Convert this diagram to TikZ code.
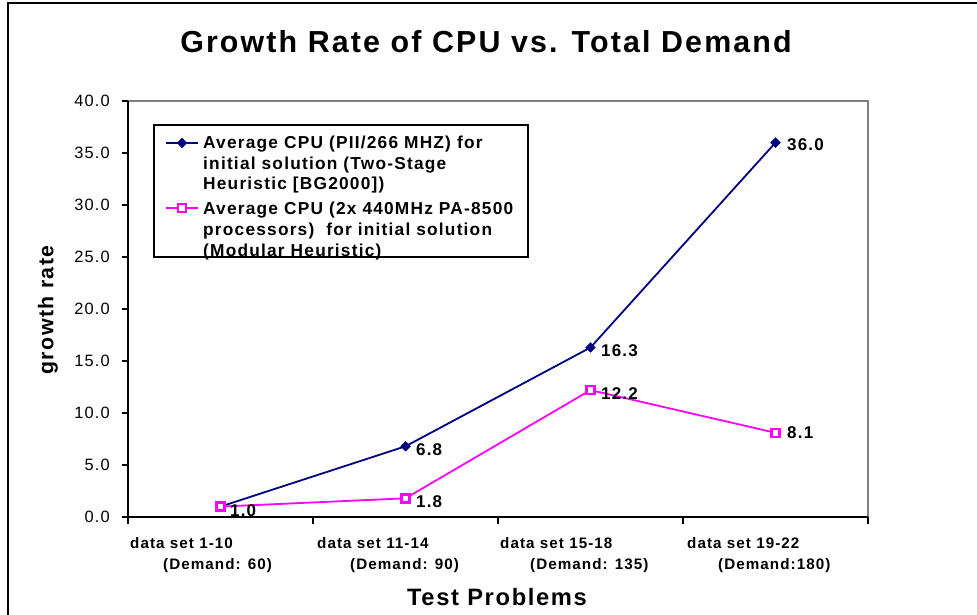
\documentclass[tikz,border=0pt]{standalone}
\usepackage{fontspec}
\setmainfont{Liberation Sans}[LetterSpace=7]
\usetikzlibrary{shapes.geometric}
\definecolor{serblue}{HTML}{000080}
\definecolor{serpink}{HTML}{FF00FF}
\definecolor{frgray}{HTML}{808080}
\begin{document}
\begin{tikzpicture}[x=1pt,y=-1pt,
  ticklab/.style={anchor=east,inner sep=0pt,font=\fontsize{16.4}{18}\selectfont},
  xlab/.style={anchor=base west,inner sep=0pt,font=\bfseries\fontsize{15.2}{17}\selectfont},
  leglab/.style={anchor=base west,inner sep=0pt,font=\bfseries\fontsize{17.3}{19}\selectfont},
  datalab/.style={anchor=west,inner sep=0pt,font=\bfseries\fontsize{17}{19}\selectfont},
  bluemark/.style={diamond,fill=serblue,draw=serblue,inner sep=0pt,minimum size=10pt},
  pinkmark/.style={rectangle,fill=white,draw=serpink,line width=2.6pt,inner sep=0pt,minimum size=8pt},
  blueline/.style={draw=serblue,line width=1.8pt},
  pinkline/.style={draw=serpink,line width=1.8pt}]
\useasboundingbox (0,0) rectangle (977,615);
\fill[white] (0,0) rectangle (977,615);
% outer frame (top and left visible)
\draw[line width=2.5pt] (8,615) -- (8,3) -- (977,3);
% title
\node[font=\bfseries\fontsize{30.4}{33}\selectfont,inner sep=0pt] (title) at (486,42) {Growth Rate of CPU vs. Total Demand};
% plot area border
\draw[frgray,line width=2.5pt] (128,101) -- (868,101) -- (868,517);
% axes
\draw[line width=2pt] (128,101) -- (128,517) -- (868,517);
\foreach \v/\t in {0/0.0,5/5.0,10/10.0,15/15.0,20/20.0,25/25.0,30/30.0,35/35.0,40/40.0}{
  \draw[line width=1.5pt] (122,517-10.4*\v) -- (128,517-10.4*\v);
  \node[ticklab] (yt\v) at (110,517-10.4*\v) {\t};
}
\foreach \x in {128,313,498,683,868}{
  \draw[line width=1.5pt] (\x,517) -- (\x,524);
}
% axis titles
\node[rotate=90,font=\bfseries\fontsize{21.3}{23}\selectfont,inner sep=0pt] (ytitle) at (48,310) {growth rate};
\node[font=\bfseries\fontsize{23.7}{26}\selectfont,inner sep=0pt] (xtitle) at (497,597) {Test Problems};
% category labels
\node[xlab] (c1a) at (130,548) {data set 1-10};
\node[xlab] (c1b) at (163,569) {(Demand: 60)};
\node[xlab] (c2a) at (317,548) {data set 11-14};
\node[xlab] (c2b) at (350,569) {(Demand: 90)};
\node[xlab] (c3a) at (500,548) {data set 15-18};
\node[xlab] (c3b) at (530,569) {(Demand: 135)};
\node[xlab] (c4a) at (687,548) {data set 19-22};
\node[xlab] (c4b) at (718,569) {(Demand:180)};
% data points
\coordinate (b1) at (220.5,506.6);
\coordinate (b2) at (405.5,446.3);
\coordinate (b3) at (590.5,347.5);
\coordinate (b4) at (775.5,142.6);
\coordinate (p1) at (220.5,506.6);
\coordinate (p2) at (405.5,498.3);
\coordinate (p3) at (590.5,390.1);
\coordinate (p4) at (775.5,432.8);
\draw[blueline] (b1) -- (b2) -- (b3) -- (b4);
\draw[pinkline] (p1) -- (p2) -- (p3) -- (p4);
\foreach \n in {b1,b2,b3,b4}{ \node[bluemark] at (\n) {}; }
\foreach \n in {p1,p2,p3,p4}{ \node[pinkmark] at (\n) {}; }
% data labels
\node[datalab] (l1) at (230,511) {1.0};
\node[datalab] (l2) at (416,450) {6.8};
\node[datalab] (l3) at (601,351) {16.3};
\node[datalab] (l4) at (787,145) {36.0};
\node[datalab] (l5) at (416,502) {1.8};
\node[datalab] (l6) at (601,394) {12.2};
\node[datalab] (l7) at (787,433) {8.1};
% legend
\draw[line width=1.5pt] (154,125) rectangle (528,257);
\coordinate (lg1a) at (166,143);
\coordinate (lg1b) at (198,143);
\draw[blueline] (lg1a) -- (lg1b);
\node[bluemark] (lm1) at (182,143) {};
\coordinate (lg2a) at (166,208);
\coordinate (lg2b) at (198,208);
\draw[pinkline] (lg2a) -- (lg2b);
\node[pinkmark] (lm2) at (182,208) {};
\node[leglab] (t1a) at (203,149) {Average CPU (PII/266 MHZ) for};
\node[leglab] (t1b) at (203,169) {initial solution (Two-Stage};
\node[leglab] (t1c) at (203,189) {Heuristic [BG2000])};
\node[leglab] (t2a) at (203,214) {Average CPU (2x 440MHz PA-8500};
\node[leglab] (t2b) at (203,235) {processors)\ \ for initial solution};
\node[leglab] (t2c) at (203,256) {(Modular Heuristic)};
\end{tikzpicture}
\end{document}
